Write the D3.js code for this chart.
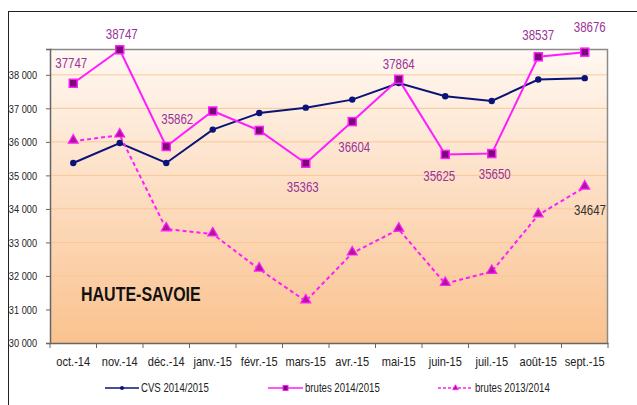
<html>
<head>
    <title>Haute-Savoie</title>
    <script src="https://d3js.org/d3.v7.min.js"></script>
    <style>
        body { margin: 0; background: #fff; }
        text { font-family: "Liberation Sans", Arial, sans-serif; }
        .tick text { font-size: 13px; fill: #222; }
        .val { font-size: 14px; fill: #993399; }
        .legend text { font-size: 12px; fill: #222; }
    </style>
</head>
<body>
<div id="vis"></div>
<script type="text/javascript">
    // data *********************************
    var months = ["oct.-14", "nov.-14", "déc.-14", "janv.-15", "févr.-15", "mars-15",
                  "avr.-15", "mai-15", "juin-15", "juil.-15", "août-15", "sept.-15"];
    var cvs1415 = [35370, 35965, 35370, 36365, 36860, 37020, 37260, 37755, 37360, 37220, 37860, 37900];
    var brutes1415 = [37747, 38747, 35862, 36920, 36340, 35363, 36604, 37864, 35625, 35650, 38537, 38676];
    var brutes1314 = [36020, 36200, 33400, 33250, 32200, 31250, 32680, 33390, 31770, 32130, 33820, 34647];
    var yTicks = [30000, 31000, 32000, 33000, 34000, 35000, 36000, 37000, 38000];
    var shownLabels = [true, true, true, false, false, true, true, true, true, true, true, true];

    // label offsets (px) relative to each point
    var labelDx = [-2, 2, 11, 0, 0, -3, 2, 0, -6, 3, 0, 5];
    var labelDy = [-15, -11, -22, 0, 0, 29, 30, -10, 27, 25, -17, -20];

    var W = 637, H = 405;
    var margin = {top: 49, right: 29, bottom: 62, left: 50};
    var width = W - margin.left - margin.right;
    var height = H - margin.top - margin.bottom;
    var NARROW = 0.82;

    // squeeze text horizontally (the original uses a narrow font)
    function narrow(sel, k) {
        sel.each(function() {
            var w = this.getComputedTextLength();
            d3.select(this).attr("textLength", w * k).attr("lengthAdjust", "spacingAndGlyphs");
        });
    }

    var svg = d3.select("#vis").append("svg")
        .attr("width", W).attr("height", H);

    // outer frame
    svg.append("rect")
        .attr("x", 8.5).attr("y", 11.5)
        .attr("width", W).attr("height", H)
        .attr("fill", "none").attr("stroke", "#222").attr("stroke-width", 1);

    var defs = svg.append("defs");
    var grad = defs.append("linearGradient").attr("id", "bg")
        .attr("x1", 0).attr("y1", 0).attr("x2", 0).attr("y2", 1);
    grad.append("stop").attr("offset", "0%").attr("stop-color", "#fff8f2");
    grad.append("stop").attr("offset", "100%").attr("stop-color", "#fac28f");

    var g = svg.append("g")
        .attr("transform", "translate(" + margin.left + "," + margin.top + ")");

    var x = d3.scaleBand().domain(months).range([0, width]);
    var y = d3.scaleLinear().domain([30000, 38770]).range([height, 0]);
    var cx = function(i) { return x(months[i]) + x.bandwidth() / 2; };

    g.append("rect")
        .attr("width", width).attr("height", height)
        .attr("fill", "url(#bg)");

    // gridlines
    g.selectAll(".grid").data(yTicks.slice(1)).enter().append("line")
        .attr("x1", 0).attr("x2", width)
        .attr("y1", function(d) { return y(d); }).attr("y2", function(d) { return y(d); })
        .attr("stroke", "#f9c896").attr("stroke-width", 1);

    // plot border (top / right)
    g.append("path")
        .attr("d", "M0,0.5H" + (width - 0.5) + "V" + height)
        .attr("fill", "none").attr("stroke", "#8a8a8a").attr("stroke-width", 1.5);

    // axes
    var yAxis = g.append("g")
        .call(d3.axisLeft(y).tickValues(yTicks).tickSize(4).tickPadding(9)
            .tickFormat(function(d) { return d3.format(",")(d).replace(",", " "); }));
    yAxis.select(".domain").attr("stroke", "#666").attr("stroke-width", 1.5);
    yAxis.selectAll(".tick line").attr("stroke", "#666");
    yAxis.selectAll(".tick text").style("font-size", "11.5px");
    narrow(yAxis.selectAll(".tick text"), 0.8);

    var xAxis = g.append("g")
        .attr("transform", "translate(0," + height + ")")
        .call(d3.axisBottom(x).tickSize(0).tickPadding(14));
    xAxis.select(".domain").attr("stroke", "#666").attr("stroke-width", 1.5);
    narrow(xAxis.selectAll(".tick text"), 0.85);
    // ticks between categories
    xAxis.selectAll(".sep").data(d3.range(months.length + 1)).enter().append("line")
        .attr("x1", function(i) { return i * x.step(); })
        .attr("x2", function(i) { return i * x.step(); })
        .attr("y1", 0).attr("y2", 5)
        .attr("stroke", "#666");

    function build_line(data, color, dashed) {
        var line = d3.line()
            .x(function(d, i) { return cx(i); })
            .y(function(d) { return y(d); });
        g.append("path")
            .datum(data)
            .attr("fill", "none")
            .attr("stroke", color)
            .attr("stroke-width", 2)
            .attr("stroke-dasharray", dashed ? "4,3" : null)
            .attr("d", line);
    }

    build_line(cvs1415, "#0a1478", false);
    build_line(brutes1415, "#ff1cff", false);
    build_line(brutes1314, "#ff1cff", true);

    // markers
    g.selectAll(".dotC").data(cvs1415).enter().append("circle")
        .attr("cx", function(d, i) { return cx(i); })
        .attr("cy", function(d) { return y(d); })
        .attr("r", 3.2).attr("fill", "#0a1478");

    g.selectAll(".sq").data(brutes1415).enter().append("rect")
        .attr("x", function(d, i) { return cx(i) - 4; })
        .attr("y", function(d) { return y(d) - 4; })
        .attr("width", 8).attr("height", 8)
        .attr("fill", "#7a0a78").attr("stroke", "#ff1cff").attr("stroke-width", 1.5);

    var tri = d3.symbol().type(d3.symbolTriangle).size(42);
    g.selectAll(".tri").data(brutes1314).enter().append("path")
        .attr("d", tri)
        .attr("transform", function(d, i) { return "translate(" + cx(i) + "," + (y(d) - 1) + ")"; })
        .attr("fill", "#b0189c").attr("stroke", "#ff1cff").attr("stroke-width", 1.2);

    // value labels
    brutes1415.forEach(function(d, i) {
        if (!shownLabels[i]) return;
        g.append("text")
            .attr("class", "val")
            .attr("x", cx(i) + labelDx[i])
            .attr("y", y(d) + labelDy[i])
            .attr("text-anchor", "middle")
            .text(d);
    });
    g.append("text")
        .attr("class", "val")
        .attr("x", width - 2)
        .attr("y", y(brutes1314[11]) + 28)
        .attr("text-anchor", "end")
        .style("fill", "#333")
        .text(brutes1314[11]);
    narrow(g.selectAll(".val"), NARROW);

    // title
    var title = g.append("text")
        .attr("x", 31).attr("y", 252)
        .style("font-size", "20px").style("font-weight", "bold")
        .attr("fill", "#111")
        .text("HAUTE-SAVOIE");
    narrow(title, 0.8);

    // legend
    var legend = svg.append("g").attr("class", "legend")
        .attr("transform", "translate(0,388)");
    var items = [
        {name: "CVS 2014/2015", x0: 105, x1: 139, color: "#0a1478", dash: null, mark: "circle"},
        {name: "brutes 2014/2015", x0: 268, x1: 303, color: "#ff1cff", dash: null, mark: "square"},
        {name: "brutes 2013/2014", x0: 438, x1: 473, color: "#ff1cff", dash: "3,2", mark: "tri"}
    ];
    items.forEach(function(it) {
        legend.append("line")
            .attr("x1", it.x0).attr("x2", it.x1).attr("y1", 0).attr("y2", 0)
            .attr("stroke", it.color).attr("stroke-width", 1.6)
            .attr("stroke-dasharray", it.dash);
        var m = (it.x0 + it.x1) / 2;
        if (it.mark === "circle") {
            legend.append("circle").attr("cx", m).attr("cy", 0).attr("r", 2).attr("fill", it.color);
        } else if (it.mark === "square") {
            legend.append("rect").attr("x", m - 2.5).attr("y", -2.5).attr("width", 5).attr("height", 5)
                .attr("fill", "#7a0a78").attr("stroke", "#ff1cff").attr("stroke-width", 1);
        } else {
            legend.append("path").attr("d", d3.symbol().type(d3.symbolTriangle).size(14))
                .attr("transform", "translate(" + m + ",0)")
                .attr("fill", "#b0189c").attr("stroke", "#ff1cff").attr("stroke-width", 0.8);
        }
        legend.append("text")
            .attr("x", it.x1 + 2).attr("y", 4)
            .text(it.name);
    });
    narrow(legend.selectAll("text"), 0.8);
</script>
</body>
</html>
